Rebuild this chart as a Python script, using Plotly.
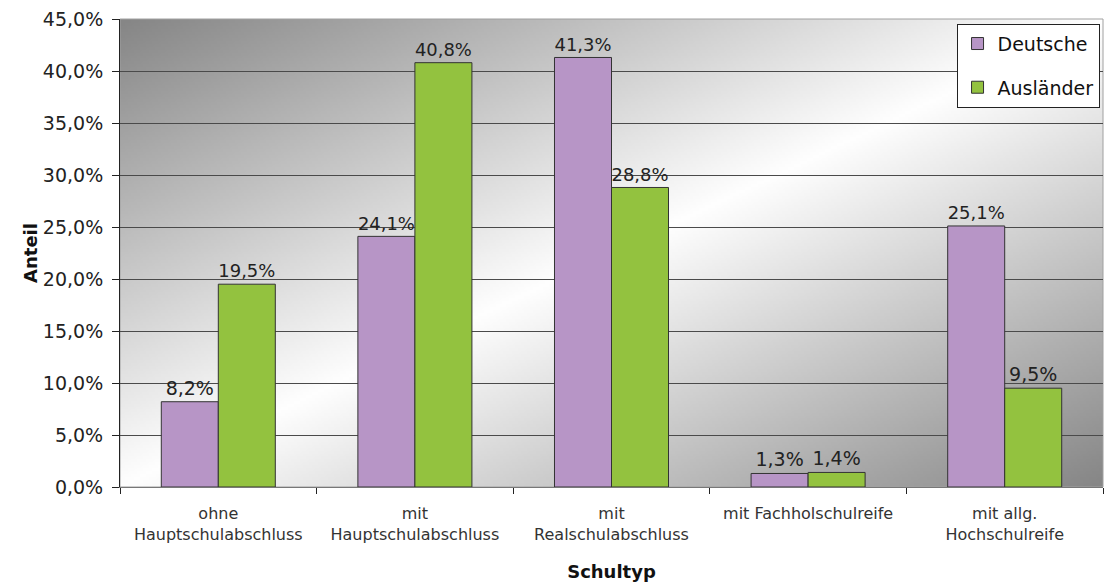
import base64, struct, zlib
import numpy as np
import plotly.graph_objects as go

categories = ["ohne<br>Hauptschulabschluss", "mit<br>Hauptschulabschluss",
              "mit<br>Realschulabschluss", "mit Fachholschulreife",
              "mit allg.<br>Hochschulreife"]
deutsche = [8.2, 24.1, 41.3, 1.3, 25.1]
auslaender = [19.5, 40.8, 28.8, 1.4, 9.5]
series_names = ["Deutsche", "Ausländer"]
y_ticks = [0, 5, 10, 15, 20, 25, 30, 35, 40, 45]
y_tick_labels = ["0,0%", "5,0%", "10,0%", "15,0%", "20,0%",
                 "25,0%", "30,0%", "35,0%", "40,0%", "45,0%"]


def gradient_png(w=320, h=160, dark=134):
    nx = np.linspace(0, 1, w)[None, :]
    ny = np.linspace(0, 1, h)[:, None]
    t = (nx + ny) / 2.0
    v = 255 - (255 - dark) * np.abs(2 * t - 1)
    img = np.clip(v, 0, 255).astype(np.uint8)
    rgb = np.repeat(img[:, :, None], 3, axis=2)
    raw = b"".join(b"\x00" + rgb[r].tobytes() for r in range(h))

    def chunk(tag, data):
        c = struct.pack(">I", len(data)) + tag + data
        return c + struct.pack(">I", zlib.crc32(tag + data) & 0xffffffff)

    png = b"\x89PNG\r\n\x1a\n"
    png += chunk(b"IHDR", struct.pack(">IIBBBBB", w, h, 8, 2, 0, 0, 0))
    png += chunk(b"IDAT", zlib.compress(raw, 9))
    png += chunk(b"IEND", b"")
    return "data:image/png;base64," + base64.b64encode(png).decode()


FONT = "DejaVu Sans"
fig = go.Figure()
for vals, name, grp, col in [(deutsche, series_names[0], "a", "#b795c6"),
                             (auslaender, series_names[1], "b", "#93c23f")]:
    fig.add_trace(go.Bar(
        x=categories, y=vals, name=name, legendgroup=grp,
        marker=dict(color=col, line=dict(color="#333333", width=1)),
        texttemplate="%{y:.1f}%", textposition="outside",
        textfont=dict(family=FONT, size=19, color="#222222"), cliponaxis=False))

fig.update_layout(
    width=1106, height=584,
    margin=dict(l=120, r=3, t=19, b=97),
    paper_bgcolor="white", plot_bgcolor="rgba(0,0,0,0)",
    separators=",.",
    barmode="group", bargap=0.42, bargroupgap=0,
    font=dict(family=FONT, color="#222222"),
    images=[dict(source=gradient_png(), xref="paper", yref="paper",
                 x=0, y=1, sizex=1, sizey=1, sizing="stretch",
                 xanchor="left", yanchor="top", layer="below")],
    legend=dict(x=0.851, y=0.99, xanchor="left", yanchor="top",
                bgcolor="white", bordercolor="#222222", borderwidth=1,
                font=dict(family=FONT, size=19, color="#111111"),
                traceorder="grouped", tracegroupgap=16,
                itemwidth=30),
    showlegend=True,
)
fig.update_yaxes(
    range=[0, 45], tickvals=y_ticks, ticktext=y_tick_labels,
    showgrid=True, gridcolor="#4a4a4a", gridwidth=1,
    showline=True, linecolor="#222222", linewidth=1,
    ticks="outside", ticklen=7, tickcolor="#222222",
    ticklabelstandoff=5,
    tickfont=dict(family=FONT, size=19, color="#222222"),
    title=dict(text="<b>Anteil</b>", font=dict(family=FONT, size=18, color="#111111"),
               standoff=0),
    zeroline=False, mirror=False)
fig.update_xaxes(
    type="category", tickson="boundaries", ticks="outside", ticklen=6,
    tickcolor="#222222", showline=True, linecolor="#777777", linewidth=1,
    tickfont=dict(family=FONT, size=16, color="#333333"),
    ticklabelstandoff=12,
    title=dict(text="<b>Schultyp</b>", font=dict(family=FONT, size=18, color="#111111"),
               standoff=22),
    showgrid=False)
fig.add_shape(type="rect", xref="paper", yref="paper", x0=0, y0=0, x1=1, y1=1,
              line=dict(color="#a0a0a0", width=1), layer="below")

fig.write_html("out.html")
